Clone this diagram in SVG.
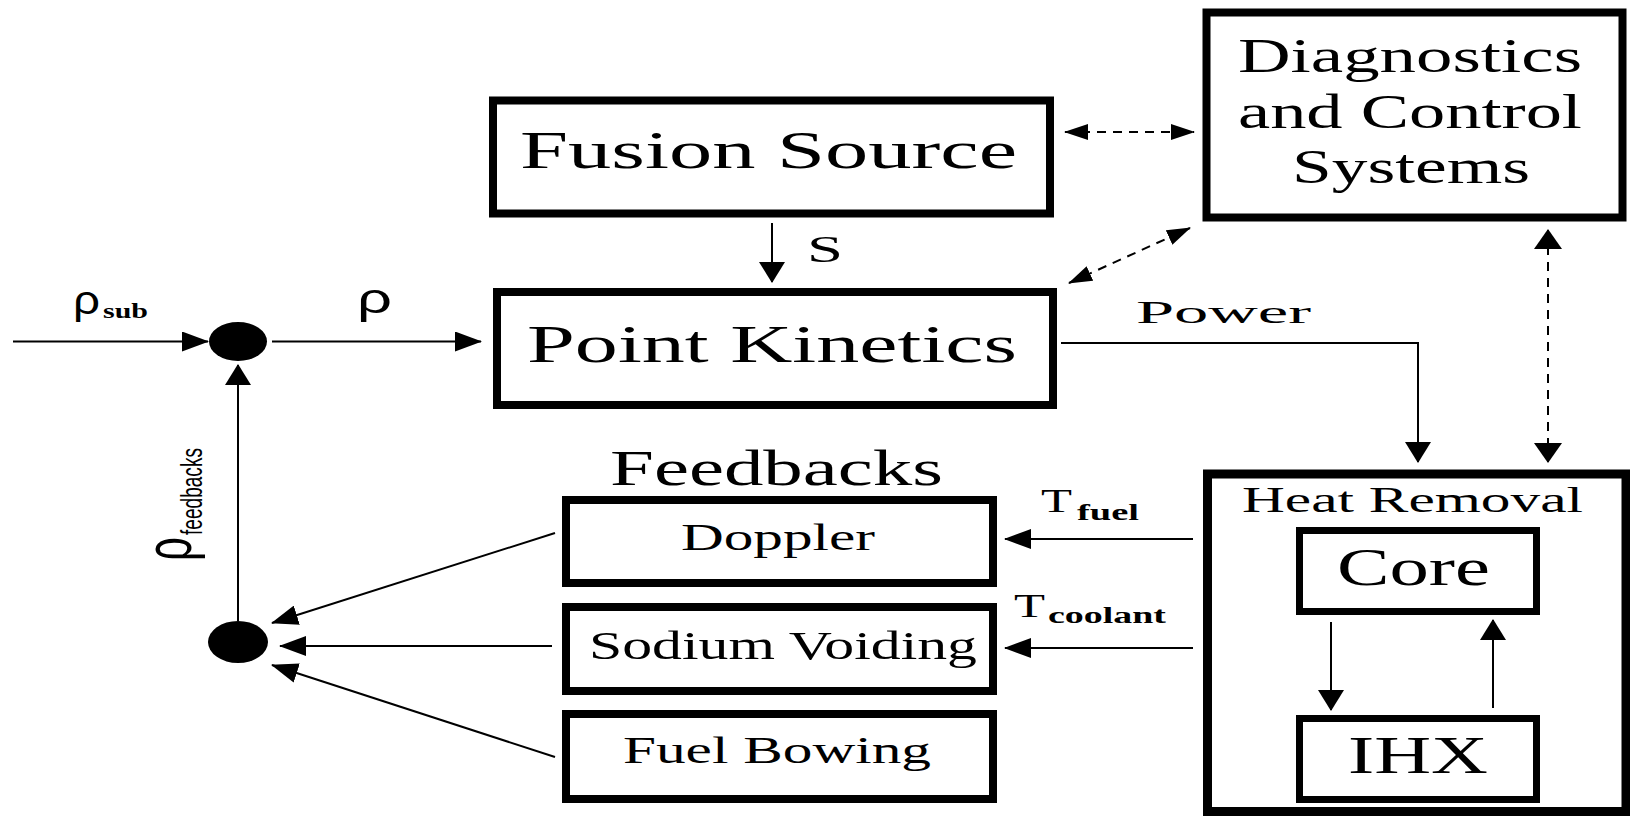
<svg xmlns="http://www.w3.org/2000/svg" width="1630" height="816" viewBox="0 0 1630 816">
<style>
  .box { fill: #fff; stroke: #000; stroke-width: 8; }
  .frame { fill: none; stroke: #000; stroke-width: 9; }
  .sbox { fill: #fff; stroke: #000; stroke-width: 7; }
  .t { font-family: "Liberation Serif", "Times New Roman", serif; fill: #000; }
  .g { font-family: "Liberation Sans", Arial, sans-serif; fill: #000; }
  .sub { font-family: "Liberation Serif", "Times New Roman", serif; font-weight: bold; fill: #000; }
  .ln { fill: none; stroke: #000; stroke-width: 2; }
  .dash { fill: none; stroke: #000; stroke-width: 2; stroke-dasharray: 9 7; }
  .ah { marker-end: url(#ah); }
  .av { marker-end: url(#av); }
</style>
<defs>
  <marker id="ah" viewBox="0 0 27 20" markerWidth="27" markerHeight="20" refX="26" refY="10" orient="auto" markerUnits="userSpaceOnUse">
    <path d="M0,0 L27,10 L0,20 z" fill="#000"/>
  </marker>
  <marker id="av" viewBox="0 0 21 26" markerWidth="21" markerHeight="26" refX="20" refY="13" orient="auto" markerUnits="userSpaceOnUse">
    <path d="M0,0 L21,13 L0,26 z" fill="#000"/>
  </marker>
  <marker id="ad" viewBox="0 0 24 16" markerWidth="24" markerHeight="16" refX="23" refY="8" orient="auto-start-reverse" markerUnits="userSpaceOnUse">
    <path d="M0,0 L24,8 L0,16 z" fill="#000"/>
  </marker>
  <marker id="adv" viewBox="0 0 20 28" markerWidth="20" markerHeight="28" refX="19" refY="14" orient="auto-start-reverse" markerUnits="userSpaceOnUse">
    <path d="M0,0 L20,14 L0,28 z" fill="#000"/>
  </marker>
</defs>
<rect width="1630" height="816" fill="#fff"/>

<g id="heat-removal">
  <rect class="frame" x="1207.5" y="474" width="418.5" height="337.5"/>
  <text class="t" x="1242" y="512" font-size="36" textLength="341" lengthAdjust="spacingAndGlyphs">Heat Removal</text>
</g>

<g id="connectors">
  <line class="ln ah" x1="13" y1="341.5" x2="208" y2="341.5"/>
  <line class="ln ah" x1="272" y1="341.5" x2="481" y2="341.5"/>
  <line class="ln av" x1="772" y1="223" x2="772" y2="282"/>
  <polyline class="ln av" points="1061,343 1418,343 1418,462"/>
  <line class="dash" x1="1065" y1="132" x2="1194" y2="132" marker-start="url(#ad)" marker-end="url(#ad)"/>
  <line class="dash" x1="1069" y1="283" x2="1190" y2="228" marker-start="url(#ad)" marker-end="url(#ad)"/>
  <line class="dash" x1="1548" y1="230" x2="1548" y2="462" marker-start="url(#adv)" marker-end="url(#adv)"/>
  <line class="ln ah" x1="1193" y1="539" x2="1005" y2="539"/>
  <line class="ln ah" x1="1193" y1="648" x2="1005" y2="648"/>
  <line class="ln ah" x1="555" y1="533" x2="272" y2="623"/>
  <line class="ln ah" x1="552" y1="646" x2="280" y2="646"/>
  <line class="ln ah" x1="555" y1="757" x2="272" y2="665"/>
  <line class="ln av" x1="238" y1="621" x2="238" y2="365"/>
  <line class="ln av" x1="1331" y1="622" x2="1331" y2="710"/>
  <line class="ln av" x1="1493" y1="708" x2="1493" y2="620"/>
</g>

<g id="edge-labels">
  <text class="g" x="73" y="314" font-size="41" textLength="27" lengthAdjust="spacingAndGlyphs">ρ</text>
  <text class="sub" x="103" y="318" font-size="21" textLength="45" lengthAdjust="spacingAndGlyphs">sub</text>
  <text class="g" x="357" y="313" font-size="43" textLength="35" lengthAdjust="spacingAndGlyphs">ρ</text>
  <text class="t" x="807" y="262" font-size="38" textLength="36" lengthAdjust="spacingAndGlyphs">S</text>
  <text class="t" x="1136" y="323" font-size="32" textLength="175" lengthAdjust="spacingAndGlyphs">Power</text>
  <text class="t" x="1041" y="512" font-size="33" textLength="31" lengthAdjust="spacingAndGlyphs">T</text>
  <text class="sub" x="1077" y="520" font-size="24" textLength="62" lengthAdjust="spacingAndGlyphs">fuel</text>
  <text class="t" x="1014" y="617" font-size="33" textLength="31" lengthAdjust="spacingAndGlyphs">T</text>
  <text class="sub" x="1048" y="623" font-size="24" textLength="118" lengthAdjust="spacingAndGlyphs">coolant</text>
  <g transform="translate(191,561) scale(1.5,1) rotate(-90)">
    <text class="g" x="0" y="0" font-size="44" textLength="24" lengthAdjust="spacingAndGlyphs">ρ</text>
    <text class="g" x="26" y="7" font-size="20" textLength="87" lengthAdjust="spacingAndGlyphs">feedbacks</text>
  </g>
</g>

<g id="fusion-source">
  <rect class="box" x="493" y="100.5" width="557" height="113"/>
  <text class="t" x="520" y="168" font-size="53" textLength="497" lengthAdjust="spacingAndGlyphs">Fusion Source</text>
</g>

<g id="diagnostics">
  <rect class="box" x="1206.5" y="12.5" width="416" height="205" stroke-width="9"/>
  <text class="t" x="1238" y="72" font-size="48" textLength="344" lengthAdjust="spacingAndGlyphs">Diagnostics</text>
  <text class="t" x="1238" y="128" font-size="48" textLength="344" lengthAdjust="spacingAndGlyphs">and Control</text>
  <text class="t" x="1292" y="183" font-size="48" textLength="238" lengthAdjust="spacingAndGlyphs">Systems</text>
</g>

<g id="point-kinetics">
  <rect class="box" x="497" y="292" width="556" height="113"/>
  <text class="t" x="527" y="362" font-size="53" textLength="490" lengthAdjust="spacingAndGlyphs">Point Kinetics</text>
</g>

<g id="sum-input">
  <ellipse cx="238" cy="341.5" rx="29" ry="19.5" fill="#000"/>
</g>

<g id="sum-feedbacks">
  <ellipse cx="238" cy="642" rx="30" ry="21" fill="#000"/>
</g>

<g id="feedbacks-title">
  <text class="t" x="610" y="485" font-size="50" textLength="333" lengthAdjust="spacingAndGlyphs">Feedbacks</text>
</g>

<g id="doppler">
  <rect class="box" x="566" y="500" width="427" height="83"/>
  <text class="t" x="681" y="550" font-size="38" textLength="194" lengthAdjust="spacingAndGlyphs">Doppler</text>
</g>

<g id="sodium-voiding">
  <rect class="box" x="566" y="607" width="427" height="84"/>
  <text class="t" x="589" y="659" font-size="39" textLength="388" lengthAdjust="spacingAndGlyphs">Sodium Voiding</text>
</g>

<g id="fuel-bowing">
  <rect class="box" x="566" y="714" width="427" height="85"/>
  <text class="t" x="623" y="763" font-size="38" textLength="308" lengthAdjust="spacingAndGlyphs">Fuel Bowing</text>
</g>

<g id="core">
  <rect class="sbox" x="1299.5" y="530.5" width="237" height="81"/>
  <text class="t" x="1337" y="585" font-size="52" textLength="153" lengthAdjust="spacingAndGlyphs">Core</text>
</g>

<g id="ihx">
  <rect class="sbox" x="1299.5" y="718.5" width="237" height="81"/>
  <text class="t" x="1348" y="773" font-size="52" textLength="140" lengthAdjust="spacingAndGlyphs">IHX</text>
</g>
</svg>
